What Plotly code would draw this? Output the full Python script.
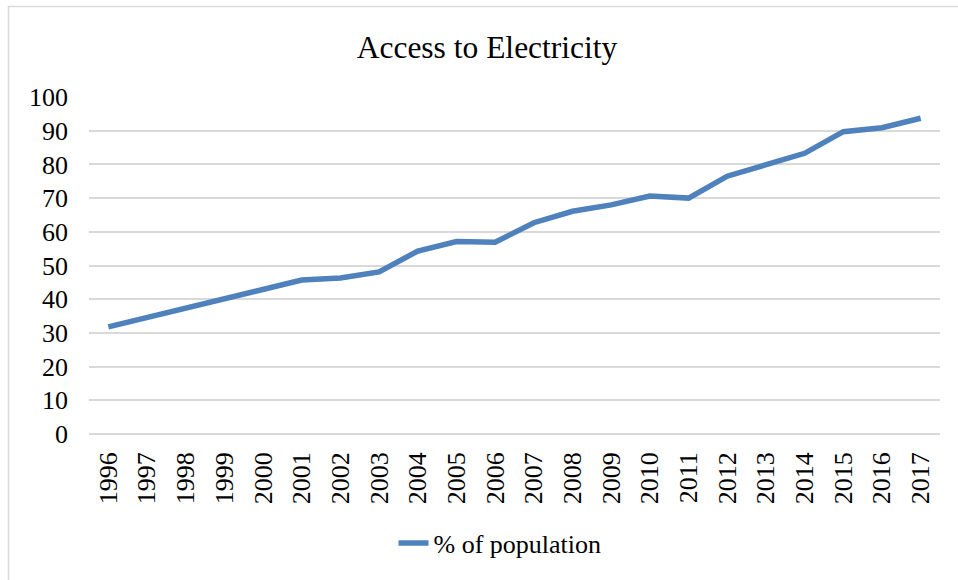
import plotly.graph_objects as go

years = [str(y) for y in range(1996, 2018)]
access_pct = [31.8, 34.6, 37.3, 40.1, 42.9, 45.7, 46.3, 48.1, 54.3, 57.1, 56.9,
              62.7, 66.1, 68.0, 70.6, 70.0, 76.5, 79.7, 83.3, 89.7, 90.9, 93.7]
y_ticks = list(range(0, 101, 10))

W, H = 958, 580
ML, MR, MT, MB = 89, 18, 97, 146
pw = W - ML - MR
ph = H - MT - MB

FONT = "Liberation Serif, Times New Roman, serif"

fig = go.Figure()
fig.add_trace(go.Scatter(
    x=years, y=access_pct, mode="lines", name="% of population",
    line=dict(color="#4F81BD", width=5.5, shape="linear"),
))

fig.update_layout(
    width=W, height=H,
    margin=dict(l=ML, r=MR, t=MT, b=MB, autoexpand=False),
    paper_bgcolor="white", plot_bgcolor="white",
    font=dict(family=FONT, size=26, color="black"),
    title=dict(text="Access to Electricity", x=487 / W, xref="container", xanchor="center",
               y=1 - 47 / H, yref="container", yanchor="middle",
               font=dict(family=FONT, size=31.5, color="black")),
    showlegend=True,
    legend=dict(orientation="h", x=(500 - ML) / pw, xanchor="center",
                y=-(543 - (MT + ph)) / ph, yanchor="middle",
                font=dict(family=FONT, size=26, color="black"),
                bgcolor="rgba(0,0,0,0)"),
    shapes=[dict(type="rect", xref="paper", yref="paper",
                 x0=(8.5 - ML) / pw, x1=(W + 5 - ML) / pw,
                 y0=-(H + 5 - MT - ph) / ph, y1=1 + (MT - 6.5) / ph,
                 line=dict(color="#d9d9d9", width=1.5), layer="below")],
)

fig.update_xaxes(type="category", range=[-0.5, len(years) - 0.5], tickangle=-90,
                 showgrid=False, showline=False, ticks="", ticklabelstandoff=12,
                 tickfont=dict(family=FONT, size=26, color="black"))
fig.update_yaxes(range=[0, 100], tickvals=y_ticks, showgrid=True, gridcolor="#d9d9d9",
                 gridwidth=1.5, zeroline=True, zerolinecolor="#d9d9d9", zerolinewidth=1.5,
                 showline=False, ticks="", ticklabelstandoff=20,
                 tickfont=dict(family=FONT, size=26, color="black"))

fig.write_html("out.html")
